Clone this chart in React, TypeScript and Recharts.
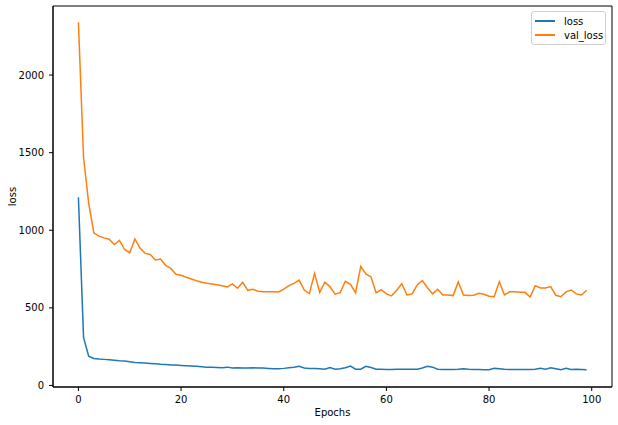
import { LineChart, Line, XAxis, YAxis, Legend, ReferenceArea } from 'recharts';

// per-epoch training history
const loss = [
  1213, 310, 189, 174, 170, 168, 166, 163, 159, 157,
  153, 148, 146, 144, 142, 140, 137, 135, 131, 131,
  129, 127, 125, 123, 121, 118, 118, 116, 114, 118,
  112, 114, 112, 112, 114, 112, 112, 110, 108, 108,
  110, 114, 118, 123, 112, 110, 110, 108, 105, 116,
  105, 108, 114, 125, 105, 105, 123, 116, 105, 105,
  103, 103, 105, 105, 105, 105, 105, 112, 123, 118,
  105, 103, 103, 103, 105, 108, 105, 103, 103, 101,
  101, 110, 108, 105, 103, 103, 103, 103, 103, 105,
  110, 105, 114, 108, 101, 110, 103, 105, 103, 101,
];

const valLoss = [
  2340, 1470, 1175, 983, 962, 951, 942, 908, 934, 876,
  855, 944, 885, 851, 844, 808, 814, 774, 754, 716,
  710, 697, 686, 675, 665, 658, 654, 649, 643, 635,
  654, 626, 665, 613, 619, 607, 604, 603, 603, 602,
  621, 643, 658, 679, 615, 592, 722, 600, 666, 637,
  588, 598, 671, 652, 596, 767, 718, 699, 596, 617,
  590, 577, 613, 656, 583, 590, 648, 676, 630, 590,
  620, 583, 583, 579, 667, 583, 579, 581, 594, 588,
  575, 572, 669, 583, 603, 603, 600, 600, 570, 643,
  628, 628, 637, 581, 572, 603, 615, 590, 583, 613,
];

const xTicks = [0, 20, 40, 60, 80, 100];
const yTicks = [0, 500, 1000, 1500, 2000];
const xDomain = [-4.95, 103.95];
const yDomain = [-10, 2445];

const data = loss.map((v, i) => ({ epoch: i, loss: v, val_loss: valLoss[i] }));

const FONT = 'DejaVu Sans, sans-serif';
const tickStyle = { fill: '#000', fontSize: 10, fontFamily: FONT };

function LegendBox() {
  const items = [
    { name: 'loss', color: '#1f77b4' },
    { name: 'val_loss', color: '#ff7f0e' },
  ];
  return (
    <div
      style={{
        boxSizing: 'border-box',
        width: 75,
        height: 34,
        border: '1px solid #d0d0d0',
        borderRadius: 3,
        background: 'rgba(255,255,255,0.8)',
        padding: '2px 0 0 3px',
        fontFamily: FONT,
        fontSize: 10,
        color: '#000',
      }}
    >
      {items.map((it) => (
        <div key={it.name} style={{ display: 'flex', alignItems: 'center', height: 14 }}>
          <span style={{ width: 20, height: 1.5, background: it.color, marginRight: 9 }} />
          <span>{it.name}</span>
        </div>
      ))}
    </div>
  );
}

export default function App() {
  return (
    <div style={{ position: 'absolute', left: 0, top: 0, background: '#fff' }}>
      <LineChart width={618} height={425} data={data} margin={{ top: 6, right: 6, left: 0, bottom: 0 }}>
        <XAxis
          dataKey="epoch"
          type="number"
          domain={xDomain}
          ticks={xTicks}
          height={38}
          tick={tickStyle}
          tickSize={4}
          tickMargin={5}
          stroke="#000"
          label={(p: any) => {
            const vb = p.viewBox;
            return (
              <text x={vb.x + vb.width / 2} y={416} textAnchor="middle" fontSize={10} fontFamily={FONT} fill="#000">
                Epochs
              </text>
            );
          }}
        />
        <YAxis
          type="number"
          domain={yDomain}
          ticks={yTicks}
          width={53}
          tick={tickStyle}
          tickSize={4}
          tickMargin={5}
          stroke="#000"
          label={(p: any) => {
            const vb = p.viewBox;
            const cy = vb.y + vb.height / 2;
            return (
              <text x={12} y={cy} transform={`rotate(-90, 12, ${cy})`} textAnchor="middle" dominantBaseline="central" fontSize={10} fontFamily={FONT} fill="#000">
                loss
              </text>
            );
          }}
        />
        {/* matplotlib-style box around the plot */}
        <ReferenceArea
          x1={xDomain[0]}
          x2={xDomain[1]}
          y1={yDomain[0]}
          y2={yDomain[1]}
          fill="none"
          fillOpacity={0}
          stroke="#000"
          strokeWidth={1}
        />
        <Legend
          verticalAlign="middle"
          align="center"
          content={() => <LegendBox />}
          wrapperStyle={{ position: 'absolute', top: 11, left: 531, width: 75 }}
        />
        <Line dataKey="loss" stroke="#1f77b4" strokeWidth={1.5} dot={false} isAnimationActive={false} />
        <Line dataKey="val_loss" stroke="#ff7f0e" strokeWidth={1.5} dot={false} isAnimationActive={false} />
      </LineChart>
    </div>
  );
}
